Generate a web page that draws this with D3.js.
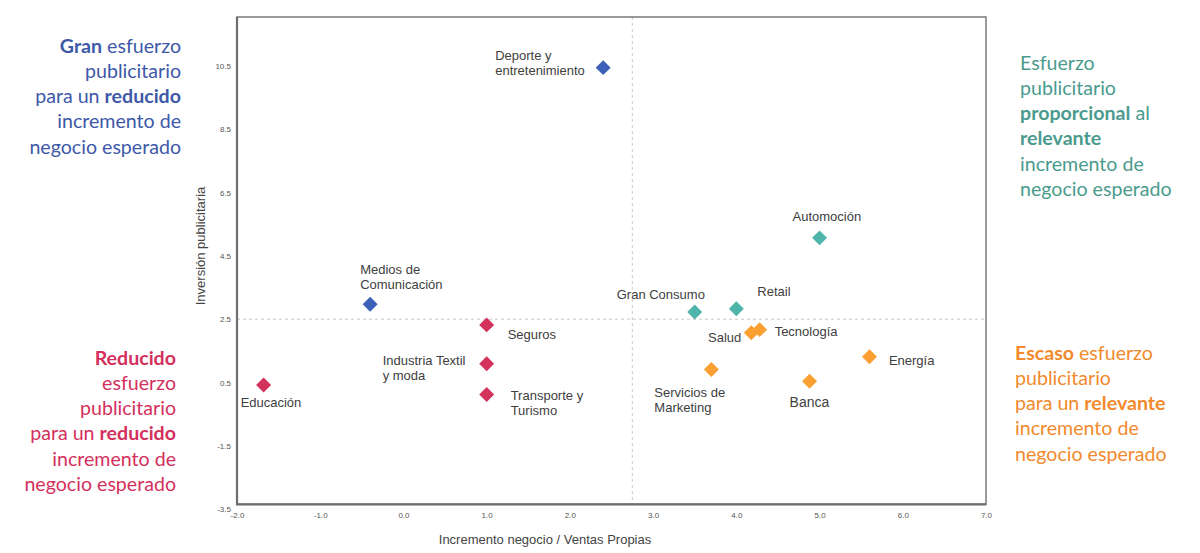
<!DOCTYPE html>
<html>
<head>
<meta charset="utf-8">
<script src="https://cdn.jsdelivr.net/npm/d3@7"></script>
<style>
  html, body { margin: 0; padding: 0; background: #fff; }
  svg { display: block; }
</style>
</head>
<body>
<svg id="chart" width="1200" height="553"></svg>
<script>
// ---------- DATA ----------
const sectors = ["Deporte y\nentretenimiento", "Medios de\nComunicación", "Educación", "Seguros",
  "Industria Textil\ny moda", "Transporte y\nTurismo", "Automoción", "Gran Consumo", "Retail",
  "Salud", "Tecnología", "Servicios de\nMarketing", "Banca", "Energía"];
const incremento = [2.40, -0.40, -1.68, 1.00, 1.00, 1.00, 5.00, 3.50, 4.00, 4.18, 4.28, 3.70, 4.88, 5.60];
const inversion  = [10.45, 2.97, 0.42, 2.32, 1.09, 0.12, 5.07, 2.73, 2.83, 2.07, 2.17, 0.91, 0.54, 1.31];
const quadrant   = ["gran", "gran", "reducido", "reducido", "reducido", "reducido", "proporcional",
  "proporcional", "proporcional", "escaso", "escaso", "escaso", "escaso", "escaso"];
const xTicks = [-2, -1, 0, 1, 2, 3, 4, 5, 6, 7];
const yTicks = [-3.5, -1.5, 0.5, 2.5, 4.5, 6.5, 8.5, 10.5];
const xThreshold = 2.75;
const yThreshold = 2.5;
const xTitle = "Incremento negocio / Ventas Propias";
const yTitle = "Inversión publicitaria";

// ---------- STYLE / PLACEMENT ----------
const markColor = { gran: "#3c60b8", reducido: "#d2325c", proporcional: "#4fb5aa", escaso: "#faa033" };
const textColor = { gran: "#3d59a8", reducido: "#d4305d", proporcional: "#4a9b8e", escaso: "#f28a2c" };
// label offset from point centre (px): [dx to text start, dy to first line centre, anchor, font-size]
const labelPlace = [[-108, -12, "start", 13], [-10, -35, "start", 13], [-23, 17, "start", 13],
  [21, 9.6, "start", 13], [-104, -3.7, "start", 13], [24, 1.4, "start", 13], [-27, -21, "start", 13],
  [-78, -17.7, "start", 13], [21, -17.7, "start", 13], [-10, 4.6, "end", 13], [15, 1.7, "start", 13],
  [-57, 22.7, "start", 13], [-20, 21.3, "start", 14], [19.4, 3.3, "start", 13]];

const svg = d3.select("#chart");
const x = d3.scaleLinear().domain([-2, 7]).range([237, 986]);
const y = d3.scaleLinear().domain([-3.35, 12.05]).range([504.3, 17]);

// dashed quadrant lines
svg.append("line")
  .attr("x1", x(xThreshold)).attr("x2", x(xThreshold))
  .attr("y1", y.range()[1]).attr("y2", y.range()[0])
  .attr("stroke", "#c8c8c8").attr("stroke-width", 1).attr("stroke-dasharray", "3,3");
svg.append("line")
  .attr("x1", x.range()[0]).attr("x2", x.range()[1])
  .attr("y1", y(yThreshold)).attr("y2", y(yThreshold))
  .attr("stroke", "#c8c8c8").attr("stroke-width", 1).attr("stroke-dasharray", "3,3");

// frame
svg.append("rect")
  .attr("x", x.range()[0]).attr("y", y.range()[1])
  .attr("width", x.range()[1] - x.range()[0]).attr("height", y.range()[0] - y.range()[1])
  .attr("fill", "none").attr("stroke", "#7a7a7a").attr("stroke-width", 1.5);
svg.append("path")
  .attr("d", `M${x.range()[0]},${y.range()[1]}V${y.range()[0]}H${x.range()[1]}`)
  .attr("fill", "none").attr("stroke", "#6e6e6e").attr("stroke-width", 2.2);

// axes
const fmt = d => d.toFixed(1);
const xAxis = svg.append("g").attr("transform", `translate(0,${y.range()[0] + 3})`)
  .call(d3.axisBottom(x).tickValues(xTicks).tickFormat(fmt).tickSize(0).tickPadding(5));
const yAxis = svg.append("g").attr("transform", `translate(${x.range()[0] - 6},0)`)
  .call(d3.axisLeft(y).tickValues(yTicks).tickFormat(fmt).tickSize(0).tickPadding(0));
[xAxis, yAxis].forEach(a => {
  a.select(".domain").remove();
  a.selectAll("text").attr("font-family", "Liberation Sans, Arial, sans-serif")
    .attr("font-size", 8).attr("fill", "#555");
});

// axis titles
svg.append("text").text(xTitle)
  .attr("x", 545).attr("y", 544)
  .attr("text-anchor", "middle").attr("font-family", "Liberation Sans, Arial, sans-serif")
  .attr("font-size", 13).attr("fill", "#444");
svg.append("text").text(yTitle)
  .attr("transform", `translate(205,246) rotate(-90)`)
  .attr("text-anchor", "middle").attr("font-family", "Liberation Sans, Arial, sans-serif")
  .attr("font-size", 13).attr("fill", "#444");

// points
const pts = sectors.map((s, i) => ({ name: s, x: incremento[i], y: inversion[i], q: quadrant[i], lp: labelPlace[i] }));
svg.append("g").selectAll("path").data(pts).join("path")
  .attr("d", d3.symbol().type(d3.symbolSquare).size(112))
  .attr("transform", d => `translate(${x(d.x)},${y(d.y)}) rotate(45)`)
  .attr("fill", d => markColor[d.q]);

// labels
const lab = svg.append("g").selectAll("text").data(pts).join("text")
  .attr("font-family", "Liberation Sans, Arial, sans-serif")
  .attr("font-size", d => d.lp[3]).attr("fill", "#404040")
  .attr("text-anchor", d => d.lp[2]);
lab.each(function(d) {
  const lines = d.name.split("\n");
  d3.select(this).selectAll("tspan").data(lines).join("tspan")
    .attr("x", x(d.x) + d.lp[0])
    .attr("y", (l, j) => y(d.y) + d.lp[1] + j * 15)
    .attr("dy", "0.35em")
    .text(l => l);
});

// quadrant descriptions
const blocks = [
  { q: "gran", anchor: "end", x: 181, y0: 46, lines: [[["Gran", 1], [" esfuerzo", 0]], [["publicitario", 0]], [["para un ", 0], ["reducido", 1]], [["incremento de", 0]], [["negocio esperado", 0]]] },
  { q: "reducido", anchor: "end", x: 176, y0: 358, lines: [[["Reducido", 1]], [["esfuerzo", 0]], [["publicitario", 0]], [["para un ", 0], ["reducido", 1]], [["incremento de", 0]], [["negocio esperado", 0]]] },
  { q: "proporcional", anchor: "start", x: 1020, y0: 63, lines: [[["Esfuerzo", 0]], [["publicitario", 0]], [["proporcional", 1], [" al", 0]], [["relevante", 1]], [["incremento de", 0]], [["negocio esperado", 0]]] },
  { q: "escaso", anchor: "start", x: 1015, y0: 353, lines: [[["Escaso", 1], [" esfuerzo", 0]], [["publicitario", 0]], [["para un ", 0], ["relevante", 1]], [["incremento de", 0]], [["negocio esperado", 0]]] }
];
blocks.forEach(b => {
  b.lines.forEach((ln, j) => {
    const t = svg.append("text")
      .attr("x", b.x).attr("y", b.y0 + j * 25.2).attr("dy", "0.35em")
      .attr("text-anchor", b.anchor)
      .attr("font-family", "Lato, 'Open Sans', sans-serif").attr("font-size", 19.6)
      .attr("fill", textColor[b.q]);
    ln.forEach(seg => {
      t.append("tspan").text(seg[0]).attr("font-weight", seg[1] ? 700 : 400).style("white-space", "pre");
    });
    t.attr("xml:space", "preserve");
  });
});
</script>
</body>
</html>
